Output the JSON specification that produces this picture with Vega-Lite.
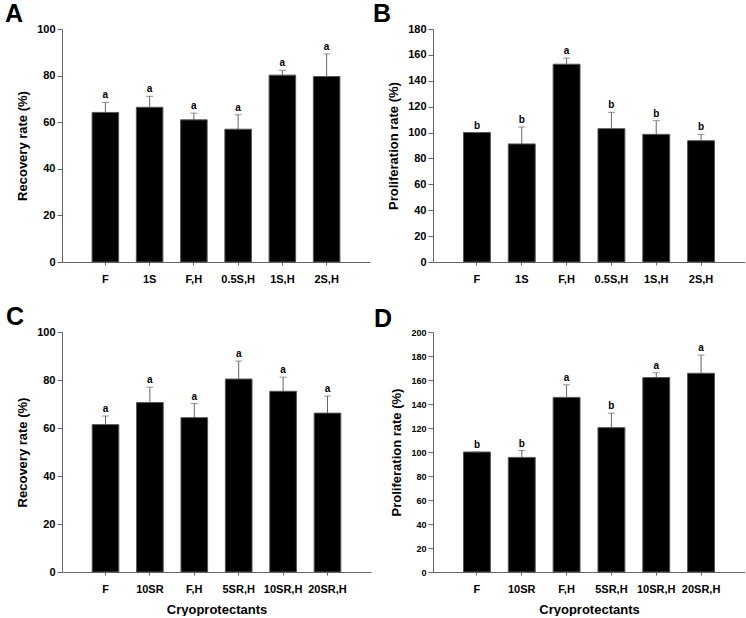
{
  "$schema": "https://vega.github.io/schema/vega-lite/v6.json",
  "padding": {"left": 5, "top": 2, "right": 0, "bottom": 0},
  "background": "white",
  "datasets": {
    "A": [
      {"group": "F", "value": 64.2, "upper": 68.5, "sig": "a"},
      {"group": "1S", "value": 66.4, "upper": 71.1, "sig": "a"},
      {"group": "F,H", "value": 61.0, "upper": 63.9, "sig": "a"},
      {"group": "0.5S,H", "value": 57.0, "upper": 63.2, "sig": "a"},
      {"group": "1S,H", "value": 80.2, "upper": 82.3, "sig": "a"},
      {"group": "2S,H", "value": 79.6, "upper": 89.3, "sig": "a"}
    ],
    "B": [
      {"group": "F", "value": 100.0, "upper": 100.0, "sig": "b"},
      {"group": "1S", "value": 91.2, "upper": 104.3, "sig": "b"},
      {"group": "F,H", "value": 152.8, "upper": 157.5, "sig": "a"},
      {"group": "0.5S,H", "value": 103.0, "upper": 115.6, "sig": "b"},
      {"group": "1S,H", "value": 98.6, "upper": 109.2, "sig": "b"},
      {"group": "2S,H", "value": 93.7, "upper": 98.6, "sig": "b"}
    ],
    "C": [
      {"group": "F", "value": 61.4, "upper": 65.0, "sig": "a"},
      {"group": "10SR", "value": 70.6, "upper": 77.0, "sig": "a"},
      {"group": "F,H", "value": 64.3, "upper": 70.2, "sig": "a"},
      {"group": "5SR,H", "value": 80.4, "upper": 87.9, "sig": "a"},
      {"group": "10SR,H", "value": 75.3, "upper": 81.2, "sig": "a"},
      {"group": "20SR,H", "value": 66.2, "upper": 73.3, "sig": "a"}
    ],
    "D": [
      {"group": "F", "value": 100.0, "upper": 100.0, "sig": "b"},
      {"group": "10SR", "value": 95.5, "upper": 101.2, "sig": "b"},
      {"group": "F,H", "value": 145.5, "upper": 156.0, "sig": "a"},
      {"group": "5SR,H", "value": 120.3, "upper": 132.4, "sig": "b"},
      {"group": "10SR,H", "value": 162.0, "upper": 166.0, "sig": "a"},
      {"group": "20SR,H", "value": 165.6, "upper": 180.8, "sig": "a"}
    ]
  },
  "vconcat": [
    {
      "hconcat": [
        {
          "width": 308, "height": 233,
          "title": {"text": "A", "dx": -57},
          "data": {"name": "A"},
          "encoding": {
            "x": {"field": "group", "type": "nominal", "sort": null, "title": null,
                  "scale": {"paddingInner": 0.4, "paddingOuter": 0.68}}
          },
          "layer": [
            {"mark": {"type": "rule", "color": "#666666"},
             "encoding": {"y": {"field": "value", "type": "quantitative", "scale": {"domain": [0, 100]},
                                "axis": {"values": [0, 20, 40, 60, 80, 100], "labelOverlap": false, "title": "Recovery rate (%)"}},
                          "y2": {"field": "upper"}}},
            {"mark": {"type": "bar", "color": "black", "stroke": "#555555", "strokeWidth": 1},
             "encoding": {"y": {"field": "value", "type": "quantitative",
                                "axis": {"values": [0, 20, 40, 60, 80, 100], "labelOverlap": false, "title": "Recovery rate (%)"}}}},
            {"mark": {"type": "tick", "color": "#666666", "size": 7, "thickness": 1},
             "encoding": {"y": {"field": "upper", "type": "quantitative",
                                "axis": {"values": [0, 20, 40, 60, 80, 100], "labelOverlap": false, "title": "Recovery rate (%)"}}}},
            {"mark": {"type": "text", "baseline": "bottom", "dy": -2, "fontSize": 10, "fontWeight": "bold"},
             "encoding": {"y": {"field": "upper", "type": "quantitative",
                                "axis": {"values": [0, 20, 40, 60, 80, 100], "labelOverlap": false, "title": "Recovery rate (%)"}},
                          "text": {"field": "sig"}}}
          ]
        },
        {
          "width": 312, "height": 233,
          "title": {"text": "B", "dx": -60},
          "data": {"name": "B"},
          "encoding": {
            "x": {"field": "group", "type": "nominal", "sort": null, "title": null,
                  "scale": {"paddingInner": 0.4, "paddingOuter": 0.68}}
          },
          "layer": [
            {"mark": {"type": "rule", "color": "#666666"},
             "encoding": {"y": {"field": "value", "type": "quantitative", "scale": {"domain": [0, 180]},
                                "axis": {"values": [0, 20, 40, 60, 80, 100, 120, 140, 160, 180], "labelOverlap": false, "title": "Proliferation rate (%)"}},
                          "y2": {"field": "upper"}}},
            {"mark": {"type": "bar", "color": "black", "stroke": "#555555", "strokeWidth": 1},
             "encoding": {"y": {"field": "value", "type": "quantitative",
                                "axis": {"values": [0, 20, 40, 60, 80, 100, 120, 140, 160, 180], "labelOverlap": false, "title": "Proliferation rate (%)"}}}},
            {"mark": {"type": "tick", "color": "#666666", "size": 7, "thickness": 1},
             "encoding": {"y": {"field": "upper", "type": "quantitative",
                                "axis": {"values": [0, 20, 40, 60, 80, 100, 120, 140, 160, 180], "labelOverlap": false, "title": "Proliferation rate (%)"}}}},
            {"mark": {"type": "text", "baseline": "bottom", "dy": -2, "fontSize": 10, "fontWeight": "bold"},
             "encoding": {"y": {"field": "upper", "type": "quantitative",
                                "axis": {"values": [0, 20, 40, 60, 80, 100, 120, 140, 160, 180], "labelOverlap": false, "title": "Proliferation rate (%)"}},
                          "text": {"field": "sig"}}}
          ]
        }
      ]
    },
    {
      "hconcat": [
        {
          "width": 309, "height": 240,
          "title": {"text": "C", "dx": -56},
          "data": {"name": "C"},
          "encoding": {
            "x": {"field": "group", "type": "nominal", "sort": null, "title": "Cryoprotectants",
                  "scale": {"paddingInner": 0.4, "paddingOuter": 0.68}}
          },
          "layer": [
            {"mark": {"type": "rule", "color": "#666666"},
             "encoding": {"y": {"field": "value", "type": "quantitative", "scale": {"domain": [0, 100]},
                                "axis": {"values": [0, 20, 40, 60, 80, 100], "labelOverlap": false, "title": "Recovery rate (%)"}},
                          "y2": {"field": "upper"}}},
            {"mark": {"type": "bar", "color": "black", "stroke": "#555555", "strokeWidth": 1},
             "encoding": {"y": {"field": "value", "type": "quantitative",
                                "axis": {"values": [0, 20, 40, 60, 80, 100], "labelOverlap": false, "title": "Recovery rate (%)"}}}},
            {"mark": {"type": "tick", "color": "#666666", "size": 7, "thickness": 1},
             "encoding": {"y": {"field": "upper", "type": "quantitative",
                                "axis": {"values": [0, 20, 40, 60, 80, 100], "labelOverlap": false, "title": "Recovery rate (%)"}}}},
            {"mark": {"type": "text", "baseline": "bottom", "dy": -2, "fontSize": 10, "fontWeight": "bold"},
             "encoding": {"y": {"field": "upper", "type": "quantitative",
                                "axis": {"values": [0, 20, 40, 60, 80, 100], "labelOverlap": false, "title": "Recovery rate (%)"}},
                          "text": {"field": "sig"}}}
          ]
        },
        {
          "width": 312, "height": 240,
          "title": {"text": "D", "dx": -59},
          "data": {"name": "D"},
          "encoding": {
            "x": {"field": "group", "type": "nominal", "sort": null, "title": "Cryoprotectants",
                  "scale": {"paddingInner": 0.4, "paddingOuter": 0.68}}
          },
          "layer": [
            {"mark": {"type": "rule", "color": "#666666"},
             "encoding": {"y": {"field": "value", "type": "quantitative", "scale": {"domain": [0, 200]},
                                "axis": {"values": [0, 20, 40, 60, 80, 100, 120, 140, 160, 180, 200], "labelOverlap": false, "title": "Proliferation rate (%)", "labelFontSize": 9}},
                          "y2": {"field": "upper"}}},
            {"mark": {"type": "bar", "color": "black", "stroke": "#555555", "strokeWidth": 1},
             "encoding": {"y": {"field": "value", "type": "quantitative",
                                "axis": {"values": [0, 20, 40, 60, 80, 100, 120, 140, 160, 180, 200], "labelOverlap": false, "title": "Proliferation rate (%)", "labelFontSize": 9}}}},
            {"mark": {"type": "tick", "color": "#666666", "size": 7, "thickness": 1},
             "encoding": {"y": {"field": "upper", "type": "quantitative",
                                "axis": {"values": [0, 20, 40, 60, 80, 100, 120, 140, 160, 180, 200], "labelOverlap": false, "title": "Proliferation rate (%)", "labelFontSize": 9}}}},
            {"mark": {"type": "text", "baseline": "bottom", "dy": -2, "fontSize": 10, "fontWeight": "bold"},
             "encoding": {"y": {"field": "upper", "type": "quantitative",
                                "axis": {"values": [0, 20, 40, 60, 80, 100, 120, 140, 160, 180, 200], "labelOverlap": false, "title": "Proliferation rate (%)", "labelFontSize": 9}},
                          "text": {"field": "sig"}}}
          ]
        }
      ],
      "spacing": 3
    }
  ],
  "spacing": 21,
  "config": {
    "font": "Liberation Sans",
    "view": {"stroke": null},
    "concat": {"spacing": 3},
    "title": {"anchor": "start", "frame": "group", "fontSize": 25, "fontWeight": "bold", "color": "black", "offset": -4},
    "axis": {
      "grid": false,
      "domainColor": "#666666",
      "tickColor": "#666666",
      "labelColor": "black",
      "titleColor": "black",
      "labelFontWeight": "bold",
      "titleFontWeight": "bold",
      "labelFontSize": 11,
      "titleFontSize": 13,
      "labelFont": "Liberation Sans",
      "titleFont": "Liberation Sans",
      "labelOverlap": false
    },
    "axisX": {"labelAngle": 0, "tickSize": 3, "labelPadding": 8, "titlePadding": 9},
    "axisY": {"tickSize": 5, "labelPadding": 2, "titlePadding": 7}
  }
}
